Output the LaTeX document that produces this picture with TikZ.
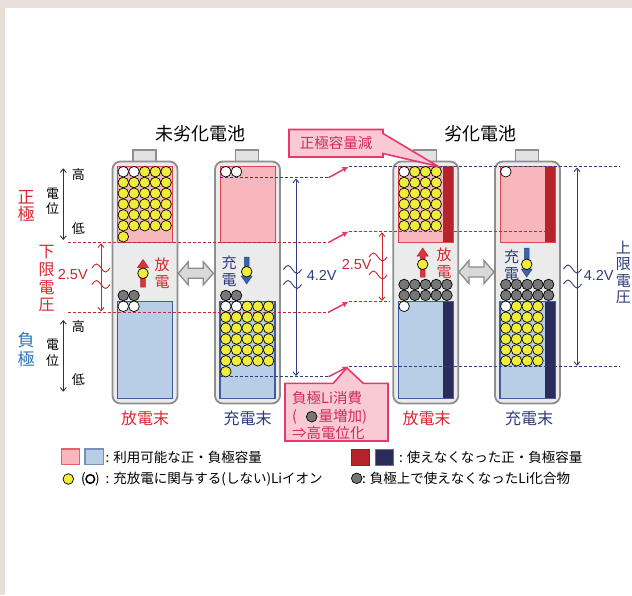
\documentclass[tikz,border=0pt]{standalone}
\usepackage{fontspec}
\setmainfont{Noto Sans CJK JP}
\newfontfamily\latinsans{Liberation Sans}
\usetikzlibrary{arrows.meta}

\definecolor{pagebeige}{HTML}{E8DFD9}
\definecolor{posfill}{HTML}{F6B8BC}
\definecolor{posedge}{HTML}{E0454D}
\definecolor{negfill}{HTML}{B8CDE6}
\definecolor{negedge}{HTML}{3E5C9C}
\definecolor{deadpos}{HTML}{B7232B}
\definecolor{deadneg}{HTML}{2A2C5C}
\definecolor{caseedge}{HTML}{8E8E8E}
\definecolor{casefill}{HTML}{EBEBEB}
\definecolor{capfill}{HTML}{E2E2E2}
\definecolor{liyellow}{HTML}{F0EC3A}
\definecolor{ligray}{HTML}{777777}
\definecolor{txtred}{HTML}{D92730}
\definecolor{txtnavy}{HTML}{2E3A78}
\definecolor{txtblue}{HTML}{2E75B6}
\definecolor{notefill}{HTML}{F9CAD3}
\definecolor{noteedge}{HTML}{E6396D}
\definecolor{notetext}{HTML}{D12B5C}
\definecolor{limred}{HTML}{C62A31}
\definecolor{limnavy}{HTML}{2F3D7E}
\definecolor{chgblue}{HTML}{3A63AC}
\definecolor{dischred}{HTML}{E0323A}
\definecolor{swapfill}{HTML}{D9D9D9}
\definecolor{swapedge}{HTML}{8A8A8A}

\newcommand\FSz[2]{\fontsize{#1}{#2}\selectfont}

\tikzset{
  lidot/.style={draw=black, line width=0.7pt},
  casebody/.style={draw=caseedge, fill=casefill, line width=1.8pt, rounded corners=8pt},
  casecap/.style={draw=caseedge, fill=capfill, line width=1.2pt},
  posbox/.style={draw=posedge, fill=posfill, line width=1pt},
  negbox/.style={draw=negedge, fill=negfill, line width=1.2pt},
  limitred/.style={draw=limred, line width=0.9pt, dash pattern=on 3pt off 2pt},
  limitnavy/.style={draw=limnavy, line width=0.9pt, dash pattern=on 3pt off 2pt},
  shiftarrow/.style={draw=noteedge, line width=1.5pt, -{Latex[length=6pt,width=6pt]}},
  volt/.style={line width=0.9pt, {Straight Barb[length=3.5pt,width=6pt]}-{Straight Barb[length=3.5pt,width=6pt]}},
  brk/.style={line width=0.9pt},
  note/.style={draw=noteedge, fill=notefill, line width=1.6pt, line join=miter},
  lbl/.style={inner sep=0pt, align=center},
  swap/.style={draw=swapedge, fill=swapfill, line width=1.3pt, line join=miter},
}

% one lithium particle: colour, x, y
\newcommand\LiDot[3]{\filldraw[lidot, fill=#1] ({#2},{#3}) circle[radius=5.3pt];}
% battery case: left edge x
\newcommand\CellCase[1]{%
  \filldraw[casecap] ({#1+20.5},150) rectangle ({#1+43.5},162);
  \filldraw[casebody] (#1,161.5) rectangle ({#1+65},403.5);}
% break mark on a voltage arrow: x, y, colour
\newcommand\BreakMark[3]{\draw[brk, draw=#3] ({#1-9},#2) sin ({#1-4.5},{#2-4}) cos (#1,#2) sin ({#1+4.5},{#2+4}) cos ({#1+9},#2);}
% grey double arrow: centre x, y
\newcommand\SwapArrow[2]{%
  \filldraw[swap] ({#1-17.5},#2) -- ({#1-7.5},{#2-11.5}) -- ({#1-7.5},{#2-5}) -- ({#1+7.5},{#2-5})
    -- ({#1+7.5},{#2-11.5}) -- ({#1+17.5},#2) -- ({#1+7.5},{#2+11.5}) -- ({#1+7.5},{#2+5})
    -- ({#1-7.5},{#2+5}) -- ({#1-7.5},{#2+11.5}) -- cycle;}
% block arrow, tip up: x, tip y, tail y, colour
\newcommand\UpShaft[4]{%
  \filldraw[fill=#4, draw=#4!75!black, line width=0.5pt] ({#1-2.4},#3) -- ({#1-2.4},{#2+8}) -- ({#1-5.5},{#2+8})
    -- (#1,#2) -- ({#1+5.5},{#2+8}) -- ({#1+2.4},{#2+8}) -- ({#1+2.4},#3) -- cycle;}
% block arrow, tip down: x, tip y, tail y, colour
\newcommand\DownShaft[4]{%
  \filldraw[fill=#4, draw=#4!75!black, line width=0.5pt] ({#1-2.4},#3) -- ({#1-2.4},{#2-8}) -- ({#1-5.5},{#2-8})
    -- (#1,#2) -- ({#1+5.5},{#2-8}) -- ({#1+2.4},{#2-8}) -- ({#1+2.4},#3) -- cycle;}

\begin{document}
\begin{tikzpicture}[x=1pt,y=-1pt]
\useasboundingbox (0,0) rectangle (632,595);
\fill[pagebeige] (0,0) rectangle (632,595);
\fill[white] (5,8) rectangle (632,595);

% titles
\node[lbl, font=\FSz{18}{20}] (ttlnew) at (200,134) {未劣化電池};
\node[lbl, font=\FSz{18}{20}] (ttlold) at (480,134) {劣化電池};

% battery cases
\CellCase{112.5}
\CellCase{215}
\CellCase{393.3}
\CellCase{495}

% electrode capacity regions
\foreach \xl in {112.5,215,393.3,495}{
  \filldraw[posbox] ({\xl+5},166) rectangle ({\xl+60},242);
  \filldraw[negbox] ({\xl+5},301.5) rectangle ({\xl+60},398.5);
}
% capacity that can no longer be used
\foreach \xl in {393.3,495}{
  \fill[deadpos] ({\xl+50},166.5) rectangle ({\xl+59.5},241.5);
  \fill[deadneg] ({\xl+50},302) rectangle ({\xl+59.5},398);
}

% potential limits
\coordinate (rA0) at (68,242.5);    \coordinate (rA1) at (328.5,242.5);
\coordinate (rB0) at (68,312.2);    \coordinate (rB1) at (328.5,312.2);
\coordinate (nA0) at (220,177.7);   \coordinate (nA1) at (328.5,177.7);
\coordinate (nB0) at (220,376.7);   \coordinate (nB1) at (328.5,376.7);
\coordinate (nC0) at (348.5,166.7); \coordinate (nC1) at (620,166.7);
\coordinate (rC0) at (348.5,231.5); \coordinate (rC1) at (545,231.5);
\coordinate (rD0) at (348.5,301.7); \coordinate (rD1) at (389,301.7);
\coordinate (nD0) at (348.5,366.5); \coordinate (nD1) at (620,366.5);
\draw[limitred] (rA0) -- (rA1);
\draw[limitred] (rB0) -- (rB1);
\draw[limitnavy] (nA0) -- (nA1);
\draw[limitnavy] (nB0) -- (nB1);
\draw[limitnavy] (nC0) -- (nC1);
\draw[limitred] (rC0) -- (rC1);
\draw[limitred] (rD0) -- (rD1);
\draw[limitnavy] (nD0) -- (nD1);
\draw[shiftarrow] (nA1) -- (nC0);
\draw[shiftarrow] (rA1) -- (rC0);
\draw[shiftarrow] (rB1) -- (rD0);
\draw[shiftarrow] (nB1) -- (nD0);

% --- fresh cell, end of discharge
\foreach \i in {2,3,4}{\LiDot{liyellow}{123.3+10.7*\i}{171.7}}
\foreach \i in {0,1}{\LiDot{white}{123.3+10.7*\i}{171.7}}
\foreach \j in {1,...,5}{\foreach \i in {0,...,4}{\LiDot{liyellow}{123.3+10.7*\i}{171.7+10.8*\j}}}
\LiDot{liyellow}{123.3}{236.7}
\foreach \i in {0,1}{\LiDot{ligray}{123.3+10.7*\i}{295.5}\LiDot{white}{123.3+10.7*\i}{306.3}}

% --- fresh cell, end of charge
\foreach \i in {0,1}{\LiDot{white}{225.8+10.7*\i}{171.7}}
\foreach \i in {0,1}{\LiDot{ligray}{225.8+10.7*\i}{295.5}\LiDot{white}{225.8+10.7*\i}{306.3}}
\foreach \i in {2,3,4}{\LiDot{liyellow}{225.8+10.7*\i}{306.3}}
\foreach \j in {1,...,5}{\foreach \i in {0,...,4}{\LiDot{liyellow}{225.8+10.7*\i}{306.3+10.9*\j}}}
\LiDot{liyellow}{225.8}{371.7}

% --- aged cell, end of discharge
\LiDot{white}{404.1}{171.7}
\foreach \i in {1,2,3}{\LiDot{liyellow}{404.1+10.7*\i}{171.7}}
\foreach \j in {1,...,5}{\foreach \i in {0,...,3}{\LiDot{liyellow}{404.1+10.7*\i}{171.7+10.8*\j}}}
\foreach \i in {0,...,4}{\LiDot{ligray}{404.1+10.7*\i}{284.5}\LiDot{ligray}{404.1+10.7*\i}{295.3}}
\LiDot{white}{404.1}{306.3}

% --- aged cell, end of charge
\LiDot{white}{505.8}{171.7}
\foreach \i in {0,...,4}{\LiDot{ligray}{505.8+10.7*\i}{284.5}\LiDot{ligray}{505.8+10.7*\i}{295.3}}
\LiDot{white}{505.8}{306.3}
\foreach \i in {1,2,3}{\LiDot{liyellow}{505.8+10.7*\i}{306.3}}
\foreach \j in {1,...,5}{\foreach \i in {0,...,3}{\LiDot{liyellow}{505.8+10.7*\i}{306.3+10.9*\j}}}

% charge / discharge arrows
\UpShaft{143}{259.5}{287}{dischred}
\LiDot{liyellow}{143}{273.3}
\node[lbl, font=\FSz{15}{16.5}, text=txtred] (dis1) at (162,273) {放\\電};
\DownShaft{246.7}{284}{257}{chgblue}
\LiDot{liyellow}{246.7}{271.7}
\node[lbl, font=\FSz{15}{16.5}, text=txtnavy] (chg1) at (229,271) {充\\電};
\UpShaft{422.7}{248}{277}{dischred}
\LiDot{liyellow}{422.7}{264.3}
\node[lbl, font=\FSz{15}{16.5}, text=txtred] (dis2) at (444,263) {放\\電};
\DownShaft{526.7}{277}{248}{chgblue}
\LiDot{liyellow}{526.7}{264.3}
\node[lbl, font=\FSz{15}{16.5}, text=txtnavy] (chg2) at (511.7,265) {充\\電};

\SwapArrow{195.8}{273.3}
\SwapArrow{476.5}{272}

% voltage spans
\coordinate (vL0) at (101,243.3);   \coordinate (vL1) at (101,311.5);
\coordinate (vR0) at (382,232.3);   \coordinate (vR1) at (382,301);
\coordinate (wL0) at (296,178.5);   \coordinate (wL1) at (296,376);
\coordinate (wR0) at (577,167.5);   \coordinate (wR1) at (577,365.8);
\draw[volt, draw=limred] (vL0) -- (vL1);
\draw[volt, draw=limred] (vR0) -- (vR1);
\draw[volt, draw=limnavy] (wL0) -- (wL1);
\draw[volt, draw=limnavy] (wR0) -- (wR1);
\BreakMark{101}{268}{limred}
\BreakMark{101}{284.5}{limred}
\BreakMark{378}{257}{limred}
\BreakMark{378}{275}{limred}
\BreakMark{292.5}{269.5}{limnavy}
\BreakMark{292.5}{284.5}{limnavy}
\BreakMark{572.5}{269}{limnavy}
\BreakMark{572.5}{284}{limnavy}
\node[lbl, font=\latinsans\FSz{14.5}{16}, text=limred] (v25a) at (72.8,275) {2.5V};
\node[lbl, font=\latinsans\FSz{14.5}{16}, text=limred] (v25b) at (356.7,265) {2.5V};
\node[lbl, font=\latinsans\FSz{14.5}{16}, text=limnavy] (v42a) at (321.7,275) {4.2V};
\node[lbl, font=\latinsans\FSz{14.5}{16}, text=limnavy] (v42b) at (598.7,275) {4.2V};

% side labels
\node[lbl, font=\FSz{17}{17.5}, text=txtred] (lpos) at (26,206) {正\\極};
\node[lbl, font=\FSz{13}{15}] (lpot1) at (52.7,201.5) {電\\位};
\coordinate (pa0) at (63.3,168.3); \coordinate (pa1) at (63.3,240);
\draw[volt, draw=black!80] (pa0) -- (pa1);
\node[lbl, font=\FSz{13}{15}] (hi1) at (78.3,175) {高};
\node[lbl, font=\FSz{13}{15}] (lo1) at (78.3,228.3) {低};
\node[lbl, font=\FSz{16}{17.8}, text=txtred] (lcut) at (46.7,278.7) {下\\限\\電\\圧};
\node[lbl, font=\FSz{17}{19}, text=txtblue] (lneg) at (26,350) {負\\極};
\node[lbl, font=\FSz{13}{16.5}] (lpot2) at (52.7,353) {電\\位};
\coordinate (pb0) at (63.3,320); \coordinate (pb1) at (63.3,391.7);
\draw[volt, draw=black!80] (pb0) -- (pb1);
\node[lbl, font=\FSz{13}{15}] (hi2) at (78.3,326.7) {高};
\node[lbl, font=\FSz{13}{15}] (lo2) at (78.3,380) {低};
\node[lbl, font=\FSz{15}{16.3}, text=limnavy] (lup) at (623.3,272.5) {上\\限\\電\\圧};

% cell state captions
\node[lbl, font=\FSz{16}{18}, text=txtred] (endd1) at (145,418.3) {放電末};
\node[lbl, font=\FSz{16}{18}, text=txtnavy] (endc1) at (247.5,418.3) {充電末};
\node[lbl, font=\FSz{16}{18}, text=txtred] (endd2) at (426.5,418.3) {放電末};
\node[lbl, font=\FSz{16}{18}, text=txtnavy] (endc2) at (529,418.3) {充電末};

% callouts
\filldraw[note] (289,129.5) -- (383,129.5) -- (383,133.5) -- (438,166.3) -- (383,153.5)
  -- (383,157) -- (289,157) -- cycle;
\node[lbl, font=\FSz{14.5}{16}, text=notetext] (capdrop) at (336,143.3) {正極容量減};
\filldraw[note] (285,383.3) -- (333.3,383.3) -- (346.7,367.8) -- (363.3,383.3) -- (388,383.3)
  -- (388,441) -- (285,441) -- cycle;
\node[lbl, font=\FSz{14.5}{16}, text=notetext, anchor=west] (nl1) at (292,398.5) {負極Li消費};
\node[lbl, font=\FSz{14.5}{16}, text=notetext, anchor=west] (nl2a) at (292,416.7) {(};
\LiDot{ligray}{311.7}{416.7}
\node[lbl, font=\FSz{14.5}{16}, text=notetext, anchor=west] (nl2b) at (318.5,416.7) {量増加)};
\node[lbl, font=\FSz{14.5}{16}, text=notetext, anchor=west] (nl3) at (292,433.3) {⇒高電位化};

% legend
\filldraw[fill=posfill, draw=posedge!85, line width=1.2pt] (61.7,449) rectangle (79.3,464.5);
\filldraw[fill=negfill, draw=negedge!70, line width=1.2pt] (85,449) rectangle (103.3,464.5);
\node[lbl, font=\FSz{13.5}{16}, anchor=west] (lg1) at (105.5,457) {: 利用可能な正・負極容量};
\LiDot{liyellow}{68.3}{479}
\node[lbl, font=\FSz{13.5}{16}] (lgp1) at (83.5,479) {(};
\filldraw[draw=black, fill=white, line width=1.5pt] (90.3,479) circle[radius=4.3pt];
\node[lbl, font=\FSz{13.5}{16}] (lgp2) at (97.5,479) {)};
\node[lbl, font=\FSz{13.5}{16}, anchor=west] (lg2) at (105.5,479) {: 充放電に関与する(しない)Liイオン};
\filldraw[fill=deadpos, draw=deadpos!80!black, line width=1pt] (351.7,449.3) rectangle (369.3,465);
\filldraw[fill=deadneg, draw=deadneg!70, line width=1pt] (375,449.3) rectangle (393.3,465);
\node[lbl, font=\FSz{13.5}{16}, anchor=west] (lg3) at (399,457.2) {: 使えなくなった正・負極容量};
\LiDot{ligray}{356.7}{478.3}
\node[lbl, font=\FSz{13.5}{16}, anchor=west] (lg4) at (362,478.3) {: 負極上で使えなくなったLi化合物};
\end{tikzpicture}
\end{document}
